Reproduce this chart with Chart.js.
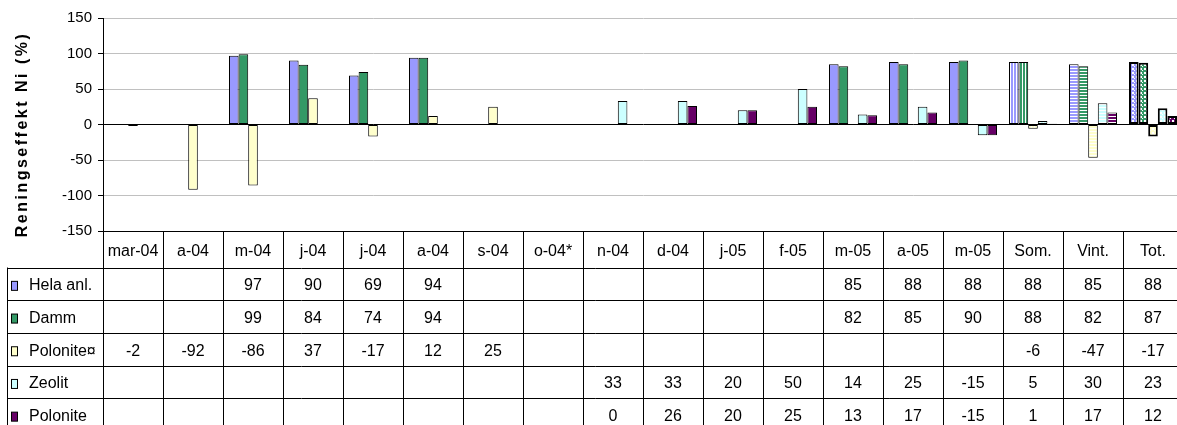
<!DOCTYPE html>
<html>
<head>
<meta charset="utf-8">
<script src="https://cdn.jsdelivr.net/npm/chart.js@4.4.1/dist/chart.umd.min.js"></script>
<style>
    html, body { margin: 0; padding: 0; background: #fff; overflow: hidden; }
    #wrap { position: relative; width: 1184px; height: 425px; }
</style>
</head>
<body>
<div id="wrap"><canvas id="chart"></canvas></div>
<script>
// Categories (months, then summer / winter / total)
const categories = ['mar-04', 'a-04', 'm-04', 'j-04', 'j-04', 'a-04', 's-04', 'o-04*', 'n-04', 'd-04',
    'j-05', 'f-05', 'm-05', 'a-05', 'm-05', 'Som.', 'Vint.', 'Tot.'];

// Series values (%), null = no measurement
const helaAnl   = [null, null, 97, 90, 69, 94, null, null, null, null, null, null, 85, 88, 88, 88, 85, 88];
const damm      = [null, null, 99, 84, 74, 94, null, null, null, null, null, null, 82, 85, 90, 88, 82, 87];
const poloniteX = [-2, -92, -86, 37, -17, 12, 25, null, null, null, null, null, null, null, null, -6, -47, -17];
const zeolit    = [null, null, null, null, null, null, null, null, 33, 33, 20, 50, 14, 25, -15, 5, 30, 23];
const polonite  = [null, null, null, null, null, null, null, null, 0, 26, 20, 25, 13, 17, -15, 1, 17, 12];

const seriesNames = ['Hela anl.', 'Damm', 'Polonite\u00a4', 'Zeolit', 'Polonite'];
const seriesColors = ['#9999ff', '#339966', '#ffffcc', '#ccffff', '#660066'];
const seriesData = [helaAnl, damm, poloniteX, zeolit, polonite];

// Y axis ticks
const yMin = -150, yMax = 150, yStep = 50;

const FONT = "'Liberation Sans', Arial, sans-serif";

// Fill patterns for the summary columns
function tile(size, draw) {
    const c = document.createElement('canvas');
    c.width = c.height = size;
    const g = c.getContext('2d');
    g.fillStyle = '#fff';
    g.fillRect(0, 0, size, size);
    draw(g);
    return g.createPattern(c, 'repeat');
}
function vStripes(color) {
    return tile(3, g => { g.fillStyle = color; g.fillRect(0, 0, 2, 3); });
}
function hStripes(color) {
    return tile(3, g => { g.fillStyle = color; g.fillRect(0, 0, 3, 2); });
}
function checker(color) {
    return tile(4, g => {
        g.fillStyle = color;
        g.fillRect(0, 0, 4, 4);
        g.fillStyle = '#fff';
        g.fillRect(0, 0, 2, 2);
        g.fillRect(2, 2, 1, 1);
    });
}

function fillsFor(color) {
    return categories.map(c => {
        if (c === 'Som.') return vStripes(color);
        if (c === 'Vint.') return hStripes(color);
        if (c === 'Tot.') return checker(color);
        return color;
    });
}

const datasets = seriesData.map((data, i) => ({
    label: seriesNames[i],
    data: data,
    backgroundColor: fillsFor(seriesColors[i]),
    borderColor: '#000',
    borderWidth: categories.map(c => c === 'Tot.' ? 2 : 1),
    borderSkipped: false,
    categoryPercentage: 0.8,
    barPercentage: 1
}));

const HEADER_H = 36.5;
const ROW_H = 32.7;
const TABLE_LEFT = 7.5;

// Data table under the plot + rotated axis title
const tablePlugin = {
    id: 'dataTable',
    afterDraw(chart) {
        const { ctx, chartArea: a } = chart;
        const n = categories.length;
        const w = (a.right - a.left) / n;
        const bottom = chart.height + 20;
        ctx.save();
        ctx.strokeStyle = '#000';
        ctx.lineWidth = 1;

        // x axis / header top
        ctx.beginPath();
        ctx.moveTo(a.left, Math.round(a.bottom) + 0.5);
        ctx.lineTo(a.right, Math.round(a.bottom) + 0.5);
        // row lines
        for (let r = 0; r <= seriesNames.length; r++) {
            const y = Math.round(a.bottom + HEADER_H + r * ROW_H) + 0.5;
            ctx.moveTo(TABLE_LEFT, y);
            ctx.lineTo(a.right, y);
        }
        // column lines
        for (let i = 0; i <= n; i++) {
            const x = Math.round(a.left + i * w) + 0.5;
            ctx.moveTo(x, a.bottom);
            ctx.lineTo(x, bottom);
        }
        ctx.moveTo(TABLE_LEFT, a.bottom + HEADER_H);
        ctx.lineTo(TABLE_LEFT, bottom);
        ctx.stroke();

        ctx.fillStyle = '#000';
        ctx.font = '16px ' + FONT;
        ctx.textAlign = 'center';
        ctx.textBaseline = 'middle';
        categories.forEach((c, i) => {
            ctx.fillText(c, a.left + (i + 0.5) * w, a.bottom + HEADER_H / 2 + 2);
        });
        seriesData.forEach((data, r) => {
            const yc = a.bottom + HEADER_H + (r + 0.5) * ROW_H + 2;
            data.forEach((v, i) => {
                if (v === null) return;
                ctx.fillText(String(v), a.left + (i + 0.5) * w, yc);
            });
            // legend key
            ctx.fillStyle = seriesColors[r];
            ctx.fillRect(11.5, yc - 4.5, 6, 9);
            ctx.strokeRect(11.5, yc - 4.5, 6, 9);
            ctx.fillStyle = '#000';
            ctx.textAlign = 'left';
            ctx.fillText(seriesNames[r], 29, yc);
            ctx.textAlign = 'center';
        });

        // y axis title
        ctx.translate(23, (a.top + a.bottom) / 2 + 10);
        ctx.rotate(-Math.PI / 2);
        ctx.font = 'bold 16px ' + FONT;
        ctx.letterSpacing = '2.5px';
        ctx.fillText('Reningseffekt Ni (%)', 0, 0);
        ctx.restore();
    }
};

new Chart(document.getElementById('chart'), {
    type: 'bar',
    data: { labels: categories, datasets: datasets },
    options: {
        responsive: true,
        maintainAspectRatio: false,
        devicePixelRatio: 1,
        animation: false,
        layout: { padding: { top: 18, bottom: 194, left: 0, right: 1 } },
        plugins: {
            legend: { display: false },
            tooltip: { enabled: false }
        },
        scales: {
            x: { display: false },
            y: {
                min: yMin,
                max: yMax,
                afterFit: scale => { scale.width = 103; },
                ticks: {
                    stepSize: yStep,
                    color: '#000',
                    padding: 6,
                    font: { family: FONT, size: 15 }
                },
                grid: {
                    color: c => (c.tick && (c.tick.value === 0 || c.tick.value === yMin)) ? '#000' : '#c0c0c0',
                    tickColor: '#000',
                    tickLength: 5
                },
                border: { color: '#000' }
            }
        }
    },
    plugins: [tablePlugin]
});
</script>
</body>
</html>
